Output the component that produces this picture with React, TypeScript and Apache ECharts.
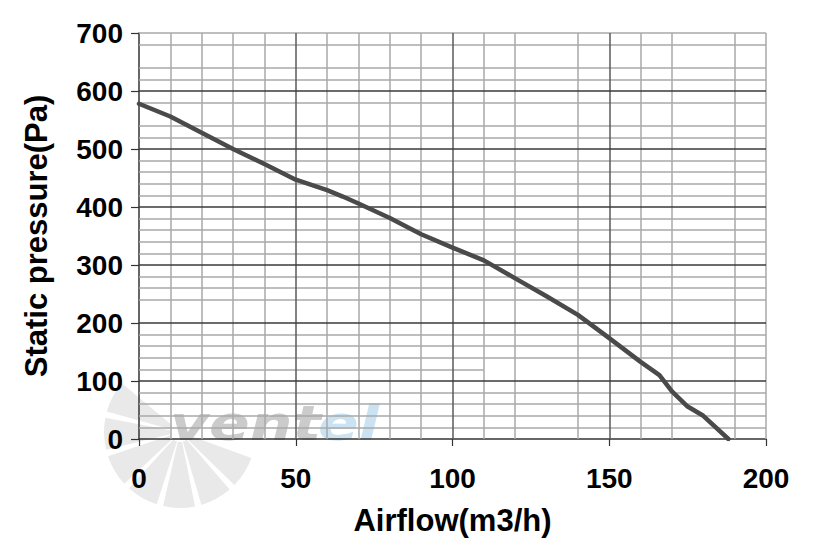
import React, { useEffect, useRef } from "react";
import * as echarts from "echarts";

// Airflow (m3/h) vs static pressure (Pa)
const airflow = [0, 10, 20, 30, 40, 50, 60, 65, 70, 80, 90, 100, 110, 120, 130, 140, 150, 160, 166, 170, 175, 180, 188];
const pressure = [578, 556, 528, 500, 474, 447, 429, 418, 406, 381, 353, 330, 308, 277, 246, 214, 174, 133, 110, 82, 56, 40, 0];

// grid lines as they appear in the picture
const xMajor = [50, 100, 150];
const xMinor = [10, 20, 30, 40, 60, 70, 80, 90, 110, 120, 140, 160, 170, 190, 200];
const yMajor = [100, 200, 300, 400, 500, 600];
const yMinor = [20, 40, 60, 80, 140, 160, 180, 240, 260, 280, 320, 340, 360, 380, 420, 440, 460, 480, 520, 540, 580, 620, 640, 680, 700];
const yPartial = [{ y: 120, xFrom: 0, xTo: 110 }];

const xTitle = "Airflow(m3/h)";
const yTitle = "Static pressure(Pa)";

const FONT = '"Liberation Sans", Arial, sans-serif';

export default function App() {
  const ref = useRef<HTMLDivElement>(null);
  useEffect(() => {
    document.body.style.margin = "0";
    const chart = echarts.init(ref.current!, null, { renderer: "svg" });
    const minorStyle = { color: "#a9a9a9", width: 1.5, type: "solid" };
    const majorH = { color: "#3a3a3a", width: 1.5, type: "solid" };
    const majorV = { color: "#5a5a5a", width: 1.5, type: "solid" };
    const gridLines: any[] = [
      ...xMinor.map((v) => ({ xAxis: v, lineStyle: minorStyle })),
      ...yMinor.map((v) => ({ yAxis: v, lineStyle: minorStyle })),
      ...yPartial.map((p) => [
        { coord: [p.xFrom, p.y], lineStyle: minorStyle },
        { coord: [p.xTo, p.y] },
      ]),
      ...xMajor.map((v) => ({ xAxis: v, lineStyle: majorV })),
      ...yMajor.map((v) => ({ yAxis: v, lineStyle: majorH })),
    ];

    const blades: any[] = [];
    const bladeCount = 7;
    const startDeg = 20;
    const spanDeg = 205;
    const step = spanDeg / bladeCount;
    for (let i = 0; i < bladeCount; i++) {
      const a0 = ((startDeg + i * step) * Math.PI) / 180;
      const a1 = ((startDeg + i * step + step - 5) * Math.PI) / 180;
      blades.push({
        type: "sector",
        shape: { cx: 180, cy: 432, r0: 10, r: 76, startAngle: a0, endAngle: a1, clockwise: true },
        style: { fill: "#e9e9e9" },
        z: -10,
        silent: true,
      });
    }

    chart.setOption({
      animation: false,
      grid: { left: 139, right: 59, top: 33, bottom: 115 },
      graphic: [
        ...blades,
        {
          type: "text",
          x: 170,
          y: 448,
          scaleX: 1.25,
          z: -9,
          silent: true,
          style: {
            text: "vent",
            fill: "#cbcbcb",
            font: 'italic bold 48px "DejaVu Sans", sans-serif',
            verticalAlign: "bottom",
          },
        },
        {
          type: "text",
          x: 318,
          y: 448,
          scaleX: 1.25,
          z: -9,
          silent: true,
          style: {
            text: "el",
            fill: "#cbe2f3",
            font: 'italic bold 48px "DejaVu Sans", sans-serif',
            verticalAlign: "bottom",
          },
        },
      ],
      xAxis: {
        type: "value",
        min: 0,
        max: 200,
        interval: 50,
        name: xTitle,
        nameLocation: "middle",
        nameGap: 66,
        nameTextStyle: { fontSize: 31, fontWeight: "bold", color: "#000", fontFamily: FONT },
        axisLine: { show: true, onZero: false, lineStyle: { color: "#333", width: 1.5 } },
        axisTick: { show: true, length: 7, lineStyle: { color: "#333", width: 1.2 } },
        axisLabel: { fontSize: 28, fontWeight: "bold", color: "#000", fontFamily: FONT, margin: 25 },
        splitLine: { show: false },
      },
      yAxis: {
        type: "value",
        min: 0,
        max: 700,
        interval: 100,
        name: yTitle,
        nameLocation: "middle",
        nameGap: 87,
        nameTextStyle: { fontSize: 31, fontWeight: "bold", color: "#000", fontFamily: FONT },
        axisLine: { show: true, onZero: false, lineStyle: { color: "#333", width: 1.5 } },
        axisTick: { show: true, length: 8, lineStyle: { color: "#333", width: 1.2 } },
        axisLabel: { fontSize: 28, fontWeight: "bold", color: "#000", fontFamily: FONT, margin: 16 },
        splitLine: { show: false },
      },
      series: [
        {
          type: "line",
          data: [],
          z: 1,
          silent: true,
          markLine: {
            silent: true,
            symbol: ["none", "none"],
            label: { show: false },
            animation: false,
            data: gridLines,
          },
        },
        {
          type: "line",
          data: airflow.map((x, i) => [x, pressure[i]]),
          symbol: "none",
          showSymbol: false,
          z: 5,
          lineStyle: { color: "#4a4a4a", width: 4.5, cap: "round", join: "round" },
        },
      ],
    });
    return () => chart.dispose();
  }, []);
  return <div ref={ref} style={{ width: 825, height: 554 }} />;
}
